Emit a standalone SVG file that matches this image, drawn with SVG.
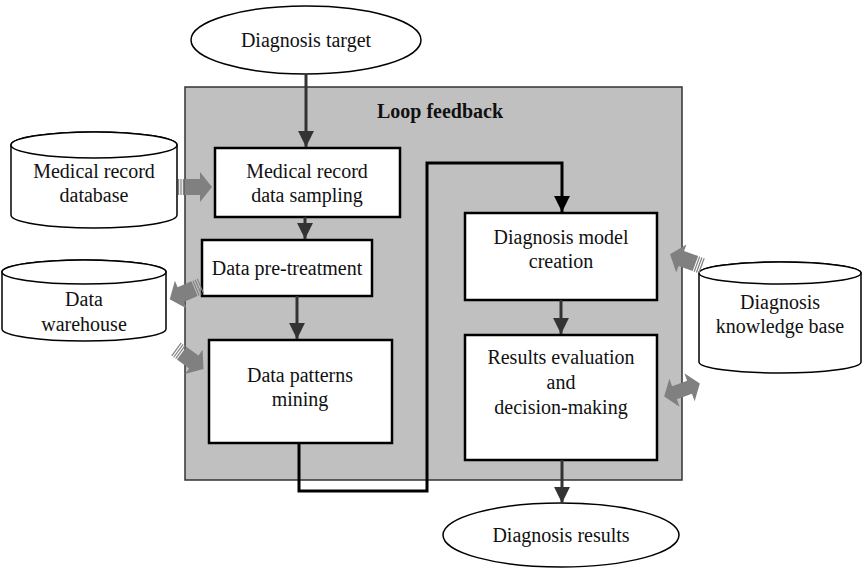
<svg xmlns="http://www.w3.org/2000/svg" width="863" height="573" viewBox="0 0 863 573">
  <style>
    .t { font-family: "Liberation Serif", "Times New Roman", serif; font-size: 20px; fill: #111; text-anchor: middle; }
    .b { font-weight: bold; }
    .box { fill: #fff; stroke: #000; stroke-width: 2.5; }
    .cyl { fill: #fff; stroke: #000; stroke-width: 1.5; }
    .ell { fill: #fff; stroke: #000; stroke-width: 1.5; }
    .flow { fill: none; stroke: #333; stroke-width: 3; }
    .loop { fill: none; stroke: #000; stroke-width: 3; }
    .ga { fill: #808080; }
  </style>
  <defs>
    <marker id="ah" viewBox="0 0 10 10" refX="10" refY="5" markerWidth="5.3" markerHeight="5.3" markerUnits="strokeWidth" orient="auto">
      <path d="M0,0 L10,5 L0,10 Z" fill="#333"/>
    </marker>
    <marker id="ahk" viewBox="0 0 10 10" refX="10" refY="5" markerWidth="5.3" markerHeight="5.3" markerUnits="strokeWidth" orient="auto">
      <path d="M0,0 L10,5 L0,10 Z" fill="#000"/>
    </marker>
    <!-- block arrow with striped tail, pointing along +x from the origin -->
    <g id="striped">
      <rect class="ga" x="0" y="-8" width="1.2" height="16"/>
      <rect class="ga" x="2.4" y="-8" width="1.2" height="16"/>
      <rect class="ga" x="4.8" y="-8" width="1.2" height="16"/>
      <path class="ga" d="M7,-8 H22 V-15 L34,0 L22,15 V8 H7 Z"/>
    </g>
    <!-- two-headed block arrow centred on the origin -->
    <path id="double" class="ga" d="M-19,0 L-8,-15 V-7 H8 V-15 L19,0 L8,15 V7 H-8 V15 Z"/>
  </defs>

  <!-- feedback panel -->
  <g id="panel">
    <rect x="185" y="87" width="497" height="393" fill="#c0c0c0" stroke="#333" stroke-width="1.5"/>
    <text class="t b" x="440" y="118">Loop feedback</text>
  </g>

  <g id="target">
    <ellipse class="ell" cx="306" cy="40" rx="115" ry="34"/>
    <text class="t" x="306" y="47">Diagnosis target</text>
  </g>

  <g id="results">
    <ellipse class="ell" cx="561" cy="535" rx="118" ry="32"/>
    <text class="t" x="561" y="542">Diagnosis results</text>
  </g>

  <g id="medical-db">
    <path class="cyl" d="M11,145 A83,13 0 0 1 177,145 L177,215 A83,13 0 0 1 11,215 Z"/>
    <ellipse class="cyl" cx="94" cy="145" rx="83" ry="13"/>
    <text class="t" x="94" y="178">Medical record</text>
    <text class="t" x="94" y="202">database</text>
  </g>

  <g id="warehouse">
    <path class="cyl" d="M2,272 A82,12 0 0 1 166,272 L166,329 A82,12 0 0 1 2,329 Z"/>
    <ellipse class="cyl" cx="84" cy="272" rx="82" ry="12"/>
    <text class="t" x="84" y="306">Data</text>
    <text class="t" x="84" y="331">warehouse</text>
  </g>

  <g id="knowledge">
    <path class="cyl" d="M699,273 A81,11 0 0 1 861,273 L861,362 A81,11 0 0 1 699,362 Z"/>
    <ellipse class="cyl" cx="780" cy="273" rx="81" ry="11"/>
    <text class="t" x="780" y="309">Diagnosis</text>
    <text class="t" x="780" y="333">knowledge base</text>
  </g>

  <g id="sampling">
    <rect class="box" x="215" y="148" width="185" height="69"/>
    <text class="t" x="307" y="178">Medical record</text>
    <text class="t" x="307" y="202">data sampling</text>
  </g>

  <g id="pretreatment">
    <rect class="box" x="202" y="240" width="170" height="56"/>
    <text class="t" x="287" y="275">Data pre-treatment</text>
  </g>

  <g id="mining">
    <rect class="box" x="209" y="340" width="183" height="103"/>
    <text class="t" x="300" y="382">Data patterns</text>
    <text class="t" x="300" y="406">mining</text>
  </g>

  <g id="model">
    <rect class="box" x="465" y="213" width="192" height="87"/>
    <text class="t" x="561" y="244">Diagnosis model</text>
    <text class="t" x="561" y="268">creation</text>
  </g>

  <g id="evaluation">
    <rect class="box" x="465" y="335" width="192" height="125"/>
    <text class="t" x="561" y="364">Results evaluation</text>
    <text class="t" x="561" y="389">and</text>
    <text class="t" x="561" y="414">decision-making</text>
  </g>

  <g id="connectors">
    <line class="flow" x1="306" y1="74" x2="306" y2="147" marker-end="url(#ah)"/>
    <line class="flow" x1="305" y1="217" x2="305" y2="239" marker-end="url(#ah)"/>
    <line class="flow" x1="297" y1="296" x2="297" y2="339" marker-end="url(#ah)"/>
    <line class="flow" x1="561" y1="300" x2="561" y2="334" marker-end="url(#ah)"/>
    <line class="flow" x1="562" y1="460" x2="562" y2="503" marker-end="url(#ah)"/>
    <path class="loop" d="M299,443 V491 H427 V163 H562 V212" marker-end="url(#ahk)"/>

    <use href="#striped" transform="translate(178,187)"/>
    <use href="#striped" transform="translate(201,286) rotate(157)"/>
    <use href="#striped" transform="translate(176,349) rotate(36)"/>
    <use href="#striped" transform="translate(702,266) rotate(200)"/>
    <use href="#double" transform="translate(682,390) rotate(-20)"/>
  </g>
</svg>
